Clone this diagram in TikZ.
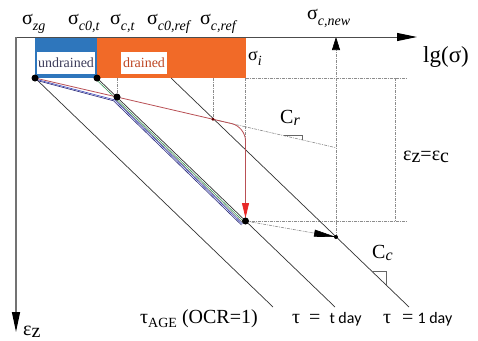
\documentclass[tikz,border=0pt]{standalone}
\usepackage{fontspec}
\setmainfont{Liberation Serif}
\newfontfamily\sansf{Carlito}
\usetikzlibrary{arrows.meta,calc}
\definecolor{cblue}{RGB}{46,118,188}
\definecolor{corange}{RGB}{241,106,40}
\definecolor{credl}{RGB}{185,80,85}
\definecolor{credarrow}{RGB}{232,40,40}
\definecolor{cgreen}{RGB}{60,150,90}
\definecolor{cblueline}{RGB}{60,70,190}
\definecolor{cdkblue}{RGB}{40,40,120}
\definecolor{utext}{RGB}{60,60,90}
\definecolor{dtext}{RGB}{190,70,35}
\newcommand\sgsub[1]{\raisebox{-0.3em}{\fontsize{14}{14}\selectfont\itshape #1}}
\newcommand\smsub[1]{\raisebox{-0.1em}{\fontsize{16}{16}\selectfont\itshape #1}}
\begin{document}
\begin{tikzpicture}[x=1pt,y=-1pt,
  lbl/.style={inner sep=0pt, anchor=base west, font=\fontsize{20}{24}\selectfont},
  diag/.style={draw=black!80, line width=0.7pt},
  guide/.style={draw=black!45, line width=0.6pt, dash pattern=on 3pt off 1pt on 1pt off 1pt},
  dot/.style={circle, fill=black, inner sep=0pt, minimum size=7pt},
  tagbox/.style={fill=white, inner sep=0pt, minimum height=22pt, font=\fontsize{14}{16}\selectfont},
  slopemark/.style={draw=black!60, line width=0.6pt},
  ]
\useasboundingbox (0,0) rectangle (478,340);
\fill[white] (0,0) rectangle (478,340);

% key points
\coordinate (O) at (16,37);
\coordinate (Xend) at (417,37);
\coordinate (Yend) at (16,332);
\coordinate (A) at (35,78);
\coordinate (B) at (97,78);
\coordinate (C) at (117,97);
\coordinate (D) at (245.5,221);
\coordinate (E) at (336,237);
\coordinate (P) at (213,119.3);
\coordinate (Q) at (245.5,126.8);
\coordinate (F) at (171,78);
\coordinate (T1) at (273,307);
\coordinate (T2) at (335,307);
\coordinate (T3) at (409,307);
\coordinate (Rend) at (336,147.7);
\coordinate (Ntop) at (336,37);
\coordinate (H1) at (407,78);
\coordinate (H2) at (407,221);
\coordinate (V1) at (395,78);
\coordinate (V2) at (395,221);
\coordinate (R1) at (284,135.6);
\coordinate (R2) at (302,135.6);
\coordinate (R3) at (302,139.8);
\coordinate (S1) at (372,271.4);
\coordinate (S2) at (386,271.4);
\coordinate (S3) at (386,284.8);

% zones
\fill[cblue] (35,37) rectangle (97,78);
\fill[corange] (97,37) rectangle (245.5,78);
\node[tagbox, text=utext, minimum width=58pt] (und) at (66,63) {undrained};
\node[tagbox, text=dtext, minimum width=46pt] (dra) at (144,63) {drained};

% guides
\draw[guide] (C|-B) -- (C);
\draw[guide] (P|-B) -- (P);
\draw[guide] (D|-B) -- (D);
\draw[guide] (D|-B) -- (H1);
\draw[guide] (D) -- (H2);
\draw[guide] (V1) -- (V2);
\draw[guide] (P) -- (Rend);
\draw[guide, -{Triangle[length=13pt,width=8pt,color=black]}] (E) -- (Ntop);

% axes
\draw[black!70, line width=1pt, -{Triangle[length=20pt,width=8pt,color=black]}] (O) -- (Xend);
\draw[black!55, line width=1.3pt, -{Triangle[length=20pt,width=8pt,color=black]}] (O) -- (Yend);

% compression lines
\draw[diag] (A) -- (T1);
\draw[diag] (B) -- (T2);
\draw[diag] (F) -- (T3);

% bundle of paths
\draw[cgreen, line width=0.6pt] ($(B)+(-1.2,1.2)$) -- ($(D)+(-1.2,1.2)$);
\draw[black!55, line width=0.5pt] ($(C)+(-2.2,2.2)$) -- ($(D)+(-2.2,2.2)$);
\draw[cblueline, line width=0.6pt] ($(A)+(0,1)$) -- ($(C)+(-2.5,2.8)$) -- ($(D)+(-3,3)$);
\draw[cdkblue, line width=0.6pt] ($(A)+(0,2)$) -- ($(C)+(-3.5,3.8)$) -- ($(D)+(-4,4)$);

% red path
\draw[credl, line width=0.8pt, rounded corners=14pt, shorten >=3pt,
  -{Triangle[length=15pt,width=7pt,color=credarrow]}] (A) -- (Q) -- (D);
\fill[black!60!red] (P) circle (1.6pt);

% unloading/reloading to new
\draw[guide, -{Triangle[length=22pt,width=7pt,color=black]}] (D) -- (E);
\fill (E) circle (2pt);

% slope marks
\draw[slopemark] (R1) -- (R2) -- (R3);
\draw[slopemark] (S1) -- (S2) -- (S3);

% dots
\node[dot] (dA) at (A) {};
\node[dot] (dB) at (B) {};
\node[dot] (dC) at (C) {};
\node[dot] (dD) at (D) {};

% labels
\node[lbl] (szg) at (22,24) {σ\sgsub{zg}};
\node[lbl] (sc0t) at (68,24) {σ\sgsub{c0,t}};
\node[lbl] (sct) at (110,24) {σ\sgsub{c,t}};
\node[lbl] (sc0r) at (147,24) {σ\sgsub{c0,ref}};
\node[lbl] (scr) at (200,24) {σ\sgsub{c,ref}};
\node[lbl] (scn) at (307,19) {σ\sgsub{c,new}};
\node[lbl, font=\fontsize{23}{26}\selectfont] (lg) at (423,62) {lg(σ)};
\node[lbl, font=\fontsize{18}{20}\selectfont] (si) at (248,60) {σ\sgsub{i}};
\node[lbl] (cr) at (280,123) {C\smsub{r}};
\node[lbl] (cc) at (372,258) {C\smsub{c}};
\node[lbl] (ezc) at (403,160) {ε\raisebox{-0.1em}{z}=ε\raisebox{-0.1em}{c}};
\node[lbl] (ez) at (23,335) {ε\raisebox{-0.1em}{z}};
\node[lbl] (tage) at (140,323) {τ\raisebox{-0.2em}{\fontsize{14}{14}\selectfont AGE} (OCR=1)};
\node[lbl] (tt) at (292,323) {τ\hspace{9pt}=\hspace{9pt}{\sansf\fontsize{16}{16}\selectfont t day}};
\node[lbl] (t1) at (383,323) {τ\hspace{11pt}=\hspace{4pt}{\sansf\fontsize{16}{16}\selectfont 1 day}};
\end{tikzpicture}
\end{document}
